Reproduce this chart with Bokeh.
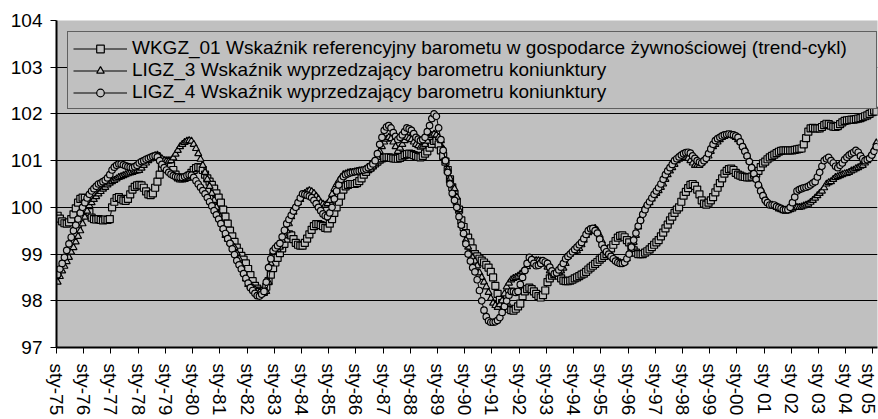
from bokeh.plotting import figure
from bokeh.models import Range1d, FixedTicker, Legend, LegendItem, ColumnDataSource
from bokeh.embed import file_html
from bokeh.resources import INLINE

tick_labels = ["sty-75", "sty-76", "sty-77", "sty-78", "sty-79", "sty-80", "sty-81", "sty-82",
               "sty-83", "sty-84", "sty-85", "sty-86", "sty-87", "sty-88", "sty-89", "sty-90",
               "sty-91", "sty-92", "sty-93", "sty-94", "sty-95", "sty-96", "sty-97", "sty-98",
               "sty-99", "sty-00", "sty 01", "sty 02", "sty 03", "sty 04", "sty 05"]

series_names = [
    "WKGZ_01 Wskaźnik referencyjny barometu w gospodarce żywnościowej (trend-cykl)",
    "LIGZ_3 Wskaźnik wyprzedzający barometru koniunktury",
    "LIGZ_4 Wskaźnik wyprzedzający barometru koniunktury",
]

# monthly values, Jan 1975 ... Feb 2005
wkgz_01 = [
    99.82, 99.76, 99.70, 99.66, 99.65, 99.68, 99.75, 99.85, 99.98, 100.10, 100.18, 100.21,
    100.20, 100.10, 99.90, 99.78, 99.75, 99.74, 99.75, 99.73, 99.72, 99.74, 99.73, 99.75,
    100.00, 100.12, 100.20, 100.22, 100.18, 100.15, 100.14, 100.18, 100.28, 100.38, 100.44, 100.47,
    100.48, 100.47, 100.42, 100.34, 100.28, 100.26, 100.30, 100.42, 100.55, 100.70, 100.85, 100.95,
    101.00, 100.98, 100.90, 100.80, 100.70, 100.64, 100.62, 100.62, 100.63, 100.65, 100.68, 100.74,
    100.80, 100.84, 100.86, 100.85, 100.80, 100.70, 100.62, 100.55, 100.48, 100.40, 100.30, 100.21,
    100.10, 99.95, 99.80, 99.65, 99.50, 99.38, 99.26, 99.14, 99.05, 98.96, 98.88, 98.80,
    98.68, 98.55, 98.42, 98.32, 98.26, 98.22, 98.20, 98.21, 98.30, 98.42, 98.56, 98.70,
    98.82, 98.92, 99.02, 99.12, 99.22, 99.33, 99.42, 99.40, 99.32, 99.24, 99.20, 99.18,
    99.18, 99.24, 99.33, 99.42, 99.52, 99.60, 99.64, 99.64, 99.62, 99.60, 99.56, 99.55,
    99.65, 99.75, 99.88, 100.00, 100.12, 100.25, 100.38, 100.45, 100.48, 100.50, 100.50, 100.50,
    100.52, 100.56, 100.62, 100.70, 100.76, 100.82, 100.86, 100.90, 100.94, 100.98, 101.02, 101.05,
    101.06, 101.07, 101.07, 101.06, 101.05, 101.04, 101.04, 101.06, 101.09, 101.12, 101.14, 101.15,
    101.14, 101.12, 101.10, 101.08, 101.07, 101.10, 101.15, 101.20, 101.28, 101.36, 101.42, 101.43,
    101.35, 101.22, 101.10, 100.98, 100.80, 100.60, 100.43, 100.28, 100.12, 99.95, 99.72, 99.58,
    99.45, 99.35, 99.25, 99.12, 99.00, 98.95, 98.90, 98.86, 98.82, 98.77, 98.71, 98.62,
    98.50, 98.32, 98.15, 98.02, 97.95, 97.90, 97.86, 97.83, 97.80, 97.79, 97.83, 97.88,
    97.94, 98.10, 98.20, 98.25, 98.28, 98.25, 98.20, 98.15, 98.10, 98.07, 98.12, 98.22,
    98.40, 98.48, 98.54, 98.57, 98.58, 98.54, 98.48, 98.43, 98.42, 98.42, 98.43, 98.45,
    98.48, 98.50, 98.53, 98.56, 98.58, 98.62, 98.67, 98.71, 98.75, 98.79, 98.83, 98.88,
    98.92, 98.96, 99.00, 99.05, 99.12, 99.20, 99.28, 99.35, 99.39, 99.40, 99.36, 99.30,
    99.25, 99.16, 99.08, 99.03, 99.00, 99.00, 99.00, 99.03, 99.06, 99.10, 99.15, 99.20,
    99.25, 99.30, 99.38, 99.46, 99.55, 99.63, 99.72, 99.80, 99.88, 99.95, 100.00, 100.12,
    100.25, 100.33, 100.41, 100.48, 100.50, 100.46, 100.38, 100.28, 100.15, 100.08, 100.06, 100.10,
    100.15, 100.22, 100.32, 100.42, 100.52, 100.62, 100.72, 100.78, 100.82, 100.83, 100.80, 100.74,
    100.70, 100.68, 100.66, 100.65, 100.64, 100.64, 100.66, 100.70, 100.72, 100.78, 100.86, 100.94,
    100.98, 101.03, 101.07, 101.10, 101.13, 101.16, 101.19, 101.21, 101.22, 101.22, 101.22, 101.22,
    101.22, 101.23, 101.24, 101.25, 101.26, 101.35, 101.48, 101.62, 101.69, 101.70, 101.69, 101.69,
    101.69, 101.72, 101.76, 101.79, 101.78, 101.75, 101.73, 101.72, 101.74, 101.78, 101.82, 101.85,
    101.86, 101.87, 101.88, 101.88, 101.89, 101.90, 101.91, 101.93, 101.95, 101.97, 102.00, 102.04,
    102.07, 102.05,
]

ligz_3 = [
    98.40, 98.52, 98.64, 98.74, 98.84, 98.93, 99.04, 99.14, 99.26, 99.38, 99.50, 99.65,
    99.79, 99.92, 100.04, 100.10, 100.17, 100.23, 100.29, 100.34, 100.39, 100.43, 100.48, 100.52,
    100.55, 100.58, 100.61, 100.64, 100.66, 100.68, 100.70, 100.72, 100.74, 100.75, 100.77, 100.78,
    100.79, 100.84, 100.90, 100.95, 101.00, 101.04, 101.08, 101.11, 101.12, 101.09, 101.04, 101.00,
    100.99, 100.99, 101.00, 101.06, 101.14, 101.22, 101.30, 101.35, 101.39, 101.42, 101.43, 101.42,
    101.35, 101.26, 101.15, 101.03, 100.90, 100.75, 100.60, 100.45, 100.30, 100.15, 100.00, 99.85,
    99.70, 99.55, 99.40, 99.32, 99.25, 99.20, 99.14, 99.02, 98.90, 98.75, 98.60, 98.47,
    98.35, 98.31, 98.28, 98.24, 98.20, 98.18, 98.15, 98.16, 98.20, 98.40, 98.80, 99.05,
    99.09, 99.10, 99.15, 99.30, 99.40, 99.50, 99.65, 99.80, 99.90, 100.00, 100.10, 100.17,
    100.24, 100.30, 100.34, 100.36, 100.34, 100.30, 100.24, 100.18, 100.10, 100.07, 100.05, 100.08,
    100.15, 100.28, 100.40, 100.49, 100.57, 100.64, 100.70, 100.72, 100.74, 100.75, 100.75, 100.76,
    100.77, 100.78, 100.78, 100.79, 100.79, 100.80, 100.82, 100.87, 100.95, 101.07, 101.20, 101.30,
    101.40, 101.46, 101.50, 101.47, 101.40, 101.30, 101.20, 101.27, 101.35, 101.43, 101.50, 101.48,
    101.45, 101.40, 101.35, 101.32, 101.29, 101.31, 101.35, 101.42, 101.50, 101.54, 101.57, 101.55,
    101.50, 101.43, 101.25, 101.00, 100.82, 100.62, 100.48, 100.40, 100.22, 99.95, 99.62, 99.45,
    99.30, 99.15, 99.00, 98.92, 98.85, 98.75, 98.60, 98.50, 98.40, 98.30, 98.18, 98.05,
    97.95, 97.90, 97.86, 97.92, 98.00, 98.15, 98.30, 98.38, 98.45, 98.48, 98.50, 98.53,
    98.57, 98.62, 98.67, 98.73, 98.79, 98.82, 98.85, 98.86, 98.86, 98.85, 98.82, 98.79,
    98.72, 98.64, 98.60, 98.58, 98.58, 98.60, 98.64, 98.70, 98.80, 98.95, 99.00, 99.05,
    99.06, 99.07, 99.12, 99.20, 99.30, 99.40, 99.46, 99.50, 99.53, 99.55, 99.50, 99.40,
    99.28, 99.15, 99.07, 99.00, 98.95, 98.90, 98.87, 98.85, 98.82, 98.80, 98.83, 98.90,
    99.00, 99.10, 99.25, 99.40, 99.58, 99.75, 99.88, 100.00, 100.05, 100.10, 100.18, 100.25,
    100.30, 100.36, 100.43, 100.50, 100.60, 100.70, 100.78, 100.85, 100.92, 101.00, 101.03, 101.05,
    101.07, 101.10, 101.05, 101.00, 100.95, 100.90, 100.90, 100.90, 100.95, 101.00, 101.05, 101.10,
    101.20, 101.30, 101.35, 101.40, 101.45, 101.50, 101.52, 101.55, 101.55, 101.55, 101.53, 101.50,
    101.45, 101.40, 101.32, 101.25, 101.12, 101.00, 100.88, 100.75, 100.62, 100.50, 100.40, 100.30,
    100.20, 100.10, 100.07, 100.05, 100.02, 100.00, 99.97, 99.95, 99.93, 99.92, 99.93, 99.95,
    99.97, 100.00, 100.00, 100.00, 100.01, 100.03, 100.05, 100.07, 100.11, 100.15, 100.20, 100.25,
    100.30, 100.35, 100.42, 100.50, 100.53, 100.55, 100.60, 100.64, 100.66, 100.68, 100.70, 100.72,
    100.73, 100.75, 100.78, 100.80, 100.83, 100.85, 100.88, 100.90, 100.95, 101.00, 101.08, 101.15,
    101.25, 101.38,
]

ligz_4 = [
    98.56, 98.68, 98.80, 98.93, 99.08, 99.22, 99.36, 99.50, 99.62, 99.75, 99.88, 100.00,
    100.10, 100.20, 100.28, 100.35, 100.40, 100.45, 100.50, 100.52, 100.55, 100.58, 100.63, 100.70,
    100.80, 100.86, 100.90, 100.93, 100.93, 100.91, 100.89, 100.87, 100.86, 100.85, 100.87, 100.90,
    100.95, 100.98, 101.00, 101.03, 101.05, 101.07, 101.09, 101.10, 101.08, 101.00, 100.92, 100.85,
    100.80, 100.75, 100.71, 100.68, 100.66, 100.65, 100.64, 100.64, 100.66, 100.68, 100.70, 100.69,
    100.64, 100.57, 100.50, 100.43, 100.36, 100.29, 100.21, 100.12, 100.03, 99.93, 99.84, 99.75,
    99.65, 99.54, 99.44, 99.33, 99.23, 99.11, 98.99, 98.86, 98.77, 98.68, 98.58, 98.48,
    98.38, 98.28, 98.22, 98.16, 98.11, 98.10, 98.14, 98.20, 98.40, 98.71, 98.90, 99.07,
    99.13, 99.18, 99.23, 99.37, 99.51, 99.65, 99.74, 99.83, 99.92, 100.00, 100.10, 100.20,
    100.29, 100.28, 100.26, 100.24, 100.21, 100.15, 100.08, 100.00, 99.93, 99.86, 99.82, 99.80,
    99.88, 100.00, 100.18, 100.35, 100.48, 100.60, 100.66, 100.70, 100.72, 100.74, 100.75, 100.76,
    100.77, 100.78, 100.79, 100.80, 100.82, 100.85, 100.88, 100.93, 101.00, 101.15, 101.35, 101.50,
    101.65, 101.72, 101.75, 101.70, 101.60, 101.52, 101.45, 101.50, 101.55, 101.62, 101.70, 101.68,
    101.65, 101.58, 101.50, 101.46, 101.43, 101.45, 101.50, 101.62, 101.75, 101.90, 102.00, 101.95,
    101.70, 101.45, 101.22, 101.00, 100.75, 100.50, 100.30, 100.15, 100.00, 99.80, 99.62, 99.44,
    99.22, 99.00, 98.85, 98.71, 98.62, 98.45, 98.22, 98.00, 97.80, 97.66, 97.57, 97.54,
    97.54, 97.55, 97.58, 97.64, 97.75, 97.88, 98.00, 98.12, 98.20, 98.20, 98.18, 98.20,
    98.35, 98.50, 98.65, 98.80, 98.93, 98.88, 98.80, 98.75, 98.76, 98.80, 98.86, 98.83,
    98.80, 98.72, 98.64, 98.58, 98.60, 98.66, 98.72, 98.80, 98.90, 98.95, 99.00, 99.05,
    99.10, 99.15, 99.20, 99.25, 99.33, 99.42, 99.50, 99.54, 99.55, 99.50, 99.45, 99.32,
    99.20, 99.12, 99.05, 99.00, 98.95, 98.90, 98.85, 98.82, 98.80, 98.80, 98.82, 98.90,
    99.00, 99.15, 99.30, 99.45, 99.60, 99.72, 99.85, 99.95, 100.05, 100.12, 100.20, 100.28,
    100.35, 100.42, 100.50, 100.60, 100.70, 100.78, 100.85, 100.92, 101.00, 101.04, 101.08, 101.12,
    101.15, 101.17, 101.18, 101.16, 101.10, 101.05, 101.00, 100.97, 100.95, 101.00, 101.05, 101.15,
    101.25, 101.35, 101.43, 101.47, 101.50, 101.53, 101.55, 101.56, 101.57, 101.56, 101.55, 101.53,
    101.50, 101.40, 101.30, 101.20, 101.10, 100.98, 100.85, 100.72, 100.60, 100.48, 100.35, 100.25,
    100.15, 100.10, 100.05, 100.05, 100.05, 100.02, 100.00, 99.98, 99.95, 99.95, 99.95, 100.00,
    100.10, 100.22, 100.35, 100.38, 100.40, 100.42, 100.43, 100.45, 100.48, 100.52, 100.55, 100.65,
    100.75, 100.88, 101.00, 101.04, 101.07, 101.00, 100.95, 100.88, 100.85, 100.90, 100.95, 101.02,
    101.07, 101.12, 101.15, 101.18, 101.22, 101.18, 101.10, 101.04, 101.00, 101.02, 101.05, 101.12,
    101.20, 101.30,
]

FONT = "Liberation Sans"
GRAY = "#c0c0c0"

n = len(wkgz_01)
months = [m + 0.5 for m in range(n)]

p = figure(width=878, height=419, output_backend="svg", toolbar_location=None,
           x_range=Range1d(0, n), y_range=Range1d(97, 104),
           min_border_left=56, min_border_right=1, min_border_top=20, min_border_bottom=72)
p.background_fill_color = GRAY
p.border_fill_color = "white"
p.outline_line_color = None

p.xgrid.grid_line_color = None
p.ygrid.grid_line_color = "black"
p.ygrid.grid_line_width = 1
p.ygrid.ticker = FixedTicker(ticks=list(range(97, 105)))

p.yaxis.ticker = FixedTicker(ticks=list(range(97, 105)))
p.xaxis.ticker = FixedTicker(ticks=[12 * k for k in range(len(tick_labels))])
p.xaxis.major_label_overrides = {12 * k: lab for k, lab in enumerate(tick_labels)}
p.xaxis.major_label_orientation = "vertical"

for ax in (p.xaxis, p.yaxis):
    ax.axis_line_color = "black"
    ax.axis_line_width = 2
    ax.major_tick_line_color = "black"
    ax.major_tick_line_width = 1
    ax.major_tick_out = 6
    ax.major_tick_in = 0
    ax.minor_tick_line_color = None
    ax.major_label_text_font = FONT
    ax.major_label_text_font_size = "19px"
    ax.major_label_text_color = "black"
p.yaxis.major_label_standoff = 8
p.xaxis.major_label_standoff = 10

specs = [
    (wkgz_01, "square", 7),
    (ligz_3, "triangle", 7),
    (ligz_4, "circle", 6.5),
]
items = []
for vals, marker, size in specs:
    src = ColumnDataSource(dict(x=months, y=vals))
    lr = p.line("x", "y", source=src, line_color="black", line_width=1)
    sr = p.scatter("x", "y", source=src, marker=marker, size=size,
                   fill_color=GRAY, line_color="black", line_width=1.2)
    items.append((lr, sr))

legend = Legend(
    items=[LegendItem(label=name, renderers=[lr, sr]) for name, (lr, sr) in zip(series_names, items)],
    location="top_left", margin=11, padding=5, spacing=0,
    glyph_width=54, glyph_height=19, label_height=19, label_width=739, label_standoff=5,
    label_text_font=FONT, label_text_font_size="19px", label_text_color="black",
    background_fill_color=GRAY, background_fill_alpha=1.0,
    border_line_color="black", border_line_width=1.5,
)
p.add_layout(legend)

open("out.html", "w").write(file_html(p, INLINE))
